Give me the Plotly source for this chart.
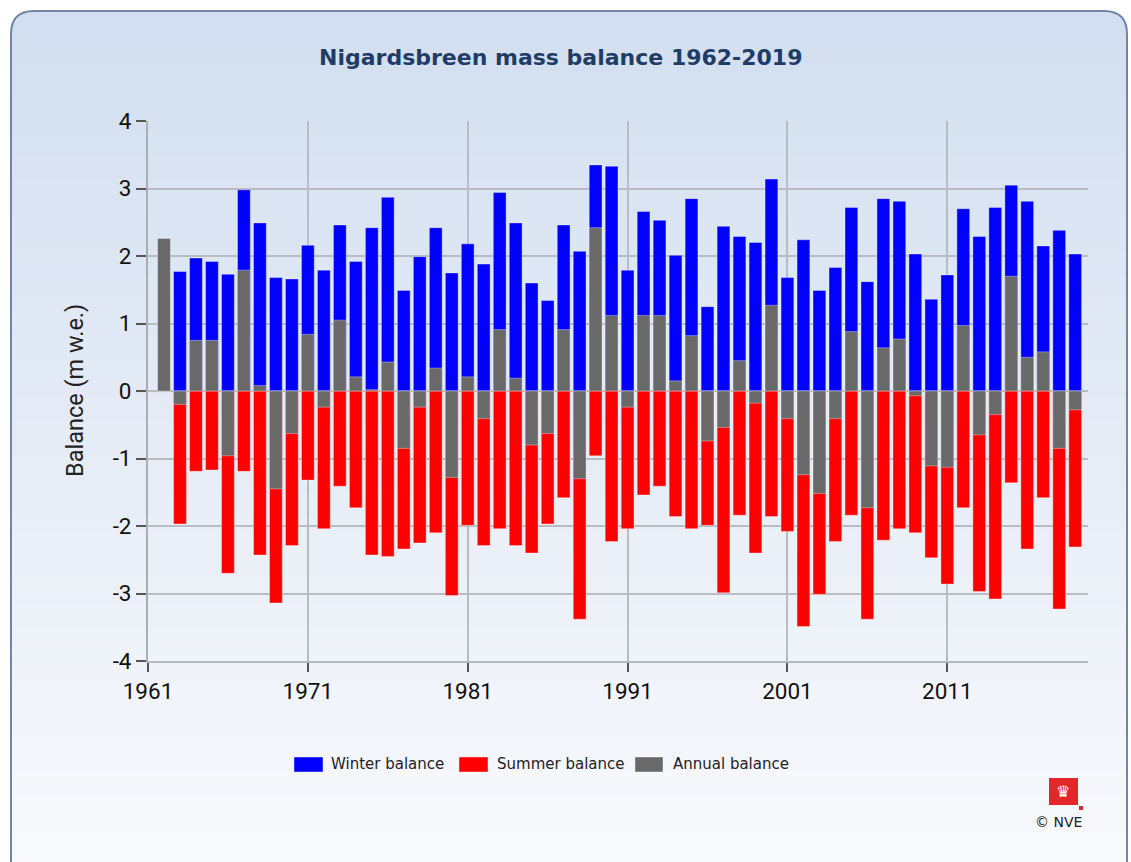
import plotly.graph_objects as go

years = list(range(1962, 2020))

winter = [None, 1.77, 1.97, 1.92, 1.73, 2.98, 2.49, 1.68, 1.66, 2.16,
          1.79, 2.46, 1.92, 2.42, 2.87, 1.49, 1.99, 2.42, 1.75, 2.18,
          1.88, 2.94, 2.49, 1.60, 1.34, 2.46, 2.07, 3.35, 3.33, 1.79,
          2.66, 2.53, 2.01, 2.85, 1.25, 2.44, 2.29, 2.20, 3.14, 1.68,
          2.24, 1.49, 1.83, 2.72, 1.62, 2.85, 2.81, 2.03, 1.36, 1.72,
          2.70, 2.29, 2.72, 3.05, 2.81, 2.15, 2.38, 2.03]

summer = [None, -1.97, -1.19, -1.17, -2.70, -1.19, -2.43, -3.14, -2.29, -1.32,
          -2.04, -1.41, -1.73, -2.43, -2.45, -2.34, -2.25, -2.10, -3.03, -1.99,
          -2.29, -2.04, -2.29, -2.40, -1.97, -1.58, -3.38, -0.96, -2.23, -2.04,
          -1.54, -1.41, -1.86, -2.04, -1.99, -2.99, -1.84, -2.40, -1.86, -2.08,
          -3.49, -3.01, -2.23, -1.84, -3.38, -2.21, -2.04, -2.10, -2.47, -2.86,
          -1.73, -2.97, -3.08, -1.36, -2.34, -1.58, -3.23, -2.31]

annual = [2.26, -0.20, 0.75, 0.75, -0.96, 1.79, 0.08, -1.45, -0.63, 0.84,
          -0.24, 1.05, 0.21, 0.02, 0.43, -0.85, -0.24, 0.34, -1.28, 0.21,
          -0.41, 0.91, 0.19, -0.80, -0.63, 0.91, -1.30, 2.42, 1.12, -0.24,
          1.12, 1.12, 0.15, 0.82, -0.74, -0.54, 0.45, -0.18, 1.27, -0.41,
          -1.24, -1.52, -0.41, 0.88, -1.73, 0.64, 0.77, -0.07, -1.11, -1.13,
          0.97, -0.65, -0.35, 1.70, 0.50, 0.58, -0.85, -0.28]

series_names = ["Winter balance", "Summer balance", "Annual balance"]
series_colors = ["#0000FF", "#FF0000", "#696969"]
x_tick_vals = [1961, 1971, 1981, 1991, 2001, 2011]
y_tick_vals = [-4, -3, -2, -1, 0, 1, 2, 3, 4]
title_text = "Nigardsbreen mass balance 1962-2019"
y_title = "Balance (m w.e.)"

W, H = 1131, 862
L, R, T, B = 148, 1088, 121, 661


def px(xp):
    return (xp - L) / (R - L)


def py(yp):
    return (B - yp) / (B - T)


fig = go.Figure()
for vals, name, col in zip([winter, summer, annual], series_names, series_colors):
    fig.add_trace(go.Bar(
        x=years, y=vals, name=name, width=0.8,
        marker=dict(color=col, line=dict(color="rgba(255,255,255,0.35)", width=1)),
        showlegend=False,
    ))

shapes = []
# panel background: rounded top filled with top colour, then gradient stripes
top_c = (211, 223, 240)
bot_c = (249, 250, 253)
x0p, x1p, y0p, rad = 11, 1127, 11, 23
path = (f"M {px(x0p)},{py(y0p + rad)} Q {px(x0p)},{py(y0p)} {px(x0p + rad)},{py(y0p)} "
        f"L {px(x1p - rad)},{py(y0p)} Q {px(x1p)},{py(y0p)} {px(x1p)},{py(y0p + rad)} "
        f"L {px(x1p)},{py(y0p + rad + 2)} L {px(x0p)},{py(y0p + rad + 2)} Z")
shapes.append(dict(type="path", xref="paper", yref="paper", path=path,
                   fillcolor="rgb(%d,%d,%d)" % top_c, line=dict(width=0), layer="below"))
n = 70
ys0, ys1 = y0p + rad, 880
for i in range(n):
    a = ys0 + (ys1 - ys0) * i / n
    b = ys0 + (ys1 - ys0) * (i + 1) / n + 1
    t = i / (n - 1)
    c = tuple(int(round(top_c[k] + (bot_c[k] - top_c[k]) * t)) for k in range(3))
    shapes.append(dict(type="rect", xref="paper", yref="paper",
                       x0=px(x0p), x1=px(x1p), y0=py(b), y1=py(a),
                       fillcolor="rgb(%d,%d,%d)" % c, line=dict(width=0), layer="below"))
border = (f"M {px(x0p)},{py(900)} L {px(x0p)},{py(y0p + rad)} Q {px(x0p)},{py(y0p)} {px(x0p + rad)},{py(y0p)} "
          f"L {px(x1p - rad)},{py(y0p)} Q {px(x1p)},{py(y0p)} {px(x1p)},{py(y0p + rad)} L {px(x1p)},{py(900)}")
shapes.append(dict(type="path", xref="paper", yref="paper", path=border,
                   line=dict(color="#6f86a8", width=2), layer="below"))

# legend boxes (drawn manually)
leg_boxes = [(294, 323), (459, 488), (635, 663)]
leg_text_x = [329, 495, 671]
for (a, b), col in zip(leg_boxes, series_colors):
    shapes.append(dict(type="rect", xref="paper", yref="paper",
                       x0=px(a), x1=px(b), y0=py(772), y1=py(757),
                       fillcolor=col, line=dict(color="rgba(255,255,255,0.4)", width=1)))

# NVE logo block
shapes.append(dict(type="rect", xref="paper", yref="paper",
                   x0=px(1049), x1=px(1078), y0=py(805), y1=py(778),
                   fillcolor="#e3262b", line=dict(width=0)))
shapes.append(dict(type="rect", xref="paper", yref="paper",
                   x0=px(1079), x1=px(1083), y0=py(810), y1=py(806),
                   fillcolor="#e3262b", line=dict(width=0)))

annotations = [
    dict(text=title_text, xref="paper", yref="paper", x=px(560), y=py(58),
         showarrow=False, xanchor="center", yanchor="middle",
         font=dict(family="DejaVu Sans", size=22, color="#1f3c66", weight="bold")),
    dict(text=y_title, xref="paper", yref="paper", x=px(75), y=py(391),
         showarrow=False, textangle=-90, xanchor="center", yanchor="middle",
         font=dict(family="Roboto", size=23.5, color="#222222")),
    dict(text="© NVE", xref="paper", yref="paper", x=px(1058), y=py(822),
         showarrow=False, xanchor="center", yanchor="middle",
         font=dict(family="DejaVu Sans", size=14, color="#222222")),
    dict(text="♛", xref="paper", yref="paper", x=px(1063), y=py(791),
         showarrow=False, xanchor="center", yanchor="middle",
         font=dict(family="DejaVu Sans", size=16, color="#ffffff")),
]
for tx, name in zip(leg_text_x, series_names):
    annotations.append(dict(text=name, xref="paper", yref="paper", x=px(tx), y=py(764),
                            showarrow=False, xanchor="left", yanchor="middle",
                            font=dict(family="DejaVu Sans", size=15, color="#222222")))

fig.update_layout(
    width=W, height=H,
    margin=dict(l=L, r=W - R, t=T, b=H - B, pad=0),
    paper_bgcolor="#ffffff",
    plot_bgcolor="rgba(0,0,0,0)",
    barmode="overlay",
    bargap=0.2,
    shapes=shapes,
    annotations=annotations,
    xaxis=dict(range=[1961, 2019.8], tickvals=x_tick_vals, ticktext=[str(v) for v in x_tick_vals],
               showgrid=True, gridcolor="#b8bcc3", gridwidth=1.5,
               ticks="outside", ticklen=9, tickcolor="#555555", tickwidth=1.5,
               showline=True, linecolor="#b5b9c0", linewidth=1.5,
               zeroline=False,
               tickfont=dict(family="Roboto", size=22.5, color="#111111")),
    yaxis=dict(range=[-4, 4], tickvals=y_tick_vals, ticktext=[str(v) for v in y_tick_vals],
               showgrid=True, gridcolor="#b8bcc3", gridwidth=1.5,
               ticks="outside", ticklen=10, tickcolor="#555555", tickwidth=1.5,
               showline=True, linecolor="#a9adb4", linewidth=2,
               zeroline=False,
               tickfont=dict(family="Roboto", size=22.5, color="#111111")),
)

fig.write_html("out.html", config={"displayModeBar": False},
               post_script="document.body.style.margin='0';document.body.style.overflow='hidden';")
